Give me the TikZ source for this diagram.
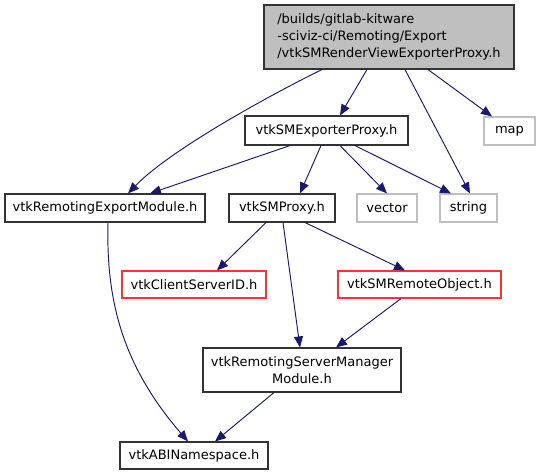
\documentclass[tikz,border=0pt]{standalone}
\usepackage{fontspec}
\setmainfont{DejaVu Sans}
\usetikzlibrary{arrows.meta}
\definecolor{edge}{HTML}{191970}
\definecolor{grayb}{HTML}{BFBFBF}
\definecolor{redb}{HTML}{FF3030}
\tikzset{
  box/.style={draw=black!80, line width=1.1pt, fill=white, inner sep=0pt, font=\fontsize{13}{17}\selectfont, align=center},
  ext/.style={box, draw=grayb},
  redbox/.style={box, draw=redb},
  edg/.style={draw=edge, line width=0.95pt, -{Triangle[length=11pt,width=9pt]}}
}
\begin{document}
\begin{tikzpicture}[x=1pt,y=-1pt]
\useasboundingbox (0,0) rectangle (541,476);
\node[box, fill=grayb, align=left, minimum width=250pt, minimum height=64pt] (top) at (389,37) {/builds/gitlab-kitware\\-sciviz-ci/Remoting/Export\\/vtkSMRenderViewExporterProxy.h};
\node[box, minimum width=163pt, minimum height=29pt] (exp) at (326.5,130.5) {vtkSMExporterProxy.h};
\node[ext, minimum width=51pt, minimum height=28pt] (map) at (509.5,131) {map};
\node[box, minimum width=200pt, minimum height=28pt] (rem) at (105,208) {vtkRemotingExportModule.h};
\node[box, minimum width=106pt, minimum height=28pt] (smp) at (282,208) {vtkSMProxy.h};
\node[ext, minimum width=60pt, minimum height=28pt] (vec) at (387,208) {vector};
\node[ext, minimum width=57pt, minimum height=28pt] (str) at (468.5,208) {string};
\node[redbox, minimum width=144pt, minimum height=27pt] (csid) at (194,284.5) {vtkClientServerID.h};
\node[redbox, minimum width=163pt, minimum height=27pt] (rob) at (419.5,284.5) {vtkSMRemoteObject.h};
\node[box, minimum width=198pt, minimum height=44pt] (rsm) at (302,370) {vtkRemotingServerManager\\Module.h};
\node[box, minimum width=148pt, minimum height=27pt] (abi) at (194,455.5) {vtkABINamespace.h};

\draw[edg] ([xshift=-67pt]top.south) .. controls (270,95) and (170,150) .. ([xshift=23pt]rem.north);
\draw[edg] ([xshift=-22pt]top.south) -- ([xshift=13.5pt]exp.north);
\draw[edg] ([xshift=16pt]top.south) -- ([xshift=1.5pt]str.north);
\draw[edg] ([xshift=39pt]top.south) -- ([xshift=-17.5pt]map.north);
\draw[edg] ([xshift=-36.5pt]exp.south) -- ([xshift=45pt]rem.north);
\draw[edg] ([xshift=-5.5pt]exp.south) -- ([xshift=18pt]smp.north);
\draw[edg] ([xshift=13.5pt]exp.south) -- (vec.north);
\draw[edg] ([xshift=28.5pt]exp.south) -- ([xshift=-17.5pt]str.north);
\draw[edg] ([xshift=-16pt]smp.south) -- ([xshift=23pt]csid.north);
\draw[edg] ([xshift=1pt]smp.south) -- ([xshift=-2pt]rsm.north);
\draw[edg] ([xshift=23pt]smp.south) -- ([xshift=-14.5pt]rob.north);
\draw[edg] ([xshift=-18.5pt]rob.south) -- ([xshift=34pt]rsm.north);
\draw[edg] ([xshift=-28pt]rsm.south) -- ([xshift=21pt]abi.north);
\draw[edg] ([xshift=3pt]rem.south) .. controls (106,300) and (122,365) .. ([xshift=-6pt]abi.north);
\end{tikzpicture}
\end{document}
